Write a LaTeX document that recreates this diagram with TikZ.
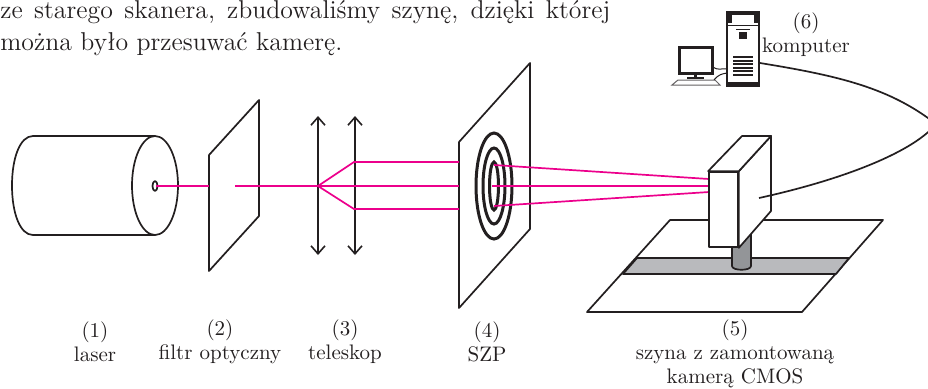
\documentclass[tikz,border=0pt]{standalone}
\usepackage{fontspec}
\usepackage{xcolor}
\usetikzlibrary{arrows.meta,positioning}
\definecolor{beamcolor}{HTML}{EC008C}
\definecolor{railgray}{HTML}{B9BABD}
\definecolor{postgray}{HTML}{939598}
\definecolor{linecolor}{HTML}{231F20}

\begin{document}
\begin{tikzpicture}[
    x=0.5pt, y=-0.5pt,
    outline/.style={draw=linecolor, line width=0.85pt, line join=round},
    beam/.style={draw=beamcolor, line width=0.85pt},
    lens/.style={draw=linecolor, line width=0.8pt, <->, >={Straight Barb[length=4pt,width=7pt]}},
    ring/.style={draw=linecolor, line width=1.5pt},
    opis/.style={align=center, text=linecolor, inner sep=0pt, font=\fontsize{10.5}{12}\selectfont},
    solid box/.style={fill=linecolor, inner sep=0pt, draw=none},
    pcbox/.style={draw=linecolor, fill=white, line width=0.6pt, inner sep=0pt, minimum width=16pt, minimum height=37pt}
]
\useasboundingbox (0,0) rectangle (928,388);

\node[opis, anchor=north west, align=left, font=\fontsize{12.9}{16}\selectfont] (tekst) at (0,0) {\hbox to 305pt{ze starego skanera, zbudowaliśmy szynę, dzięki której}\\można było przesuwać kamerę.};

\draw[outline] (33,136) .. controls (20,136) and (12,158) .. (12,185.5) .. controls (12,213) and (20,235) .. (33,235) -- (155,235);
\draw[outline] (33,136) -- (155,136);
\draw[outline] (155,185.5) ellipse [x radius=23, y radius=49.5];
\draw[outline] (155,186) ellipse [x radius=2.5, y radius=5];
\draw[outline] (209,155) -- (259,100) -- (259,216) -- (209,271) -- cycle;
\draw[lens] (318,116) -- (318,255);
\draw[lens] (355,116) -- (355,255);
\draw[outline] (459,142) -- (530,63) -- (530,229) -- (459,308) -- cycle;
\draw[ring] (494,186) ellipse [x radius=18, y radius=53];
\draw[ring] (494,186) ellipse [x radius=11, y radius=38];
\draw[ring] (494,186) ellipse [x radius=4.5, y radius=24];

\coordinate (waist) at (318,186);
\draw[beam] (156,186) -- (209,186);
\draw[beam] (235,186) -- (459,186);
\draw[beam] (waist) -- (354,162) -- (459,162);
\draw[beam] (waist) -- (354,209) -- (459,209);
\draw[beam] (494,165) -- (709,179);
\draw[beam] (492,186) -- (709,186);
\draw[beam] (494,206) -- (709,192);

\draw[outline] (670,220) -- (883,220) -- (802,312) -- (587,312) -- cycle;
\draw[outline, fill=railgray] (637,258) -- (849,258) -- (836,274) -- (623,274) -- cycle;
\draw[outline, fill=postgray] (732,230) -- (732,266) .. controls (732,271) and (751,271) .. (751,266) -- (751,230);

\node[outline, fill=white, inner sep=0pt, minimum width=14.5pt, minimum height=37.5pt] (front) at (723.5,209.5) {};
\draw[outline, fill=white] (front.north east) -- (771,136) -- (771,211) -- (front.south east) -- cycle;
\draw[outline, fill=white] (front.north west) -- (742,136) -- (771,136) -- (front.north east) -- cycle;

\node[pcbox] (tower) at (743,49) {};
\node[solid box, minimum width=16pt, minimum height=2pt] (tophead) at (743,13) {};
\node[solid box, minimum width=16pt, minimum height=2pt] (bottom) at (743,84) {};
\node[solid box, minimum width=2.5pt, minimum height=5pt] (cornerl) at (729.5,17) {};
\node[solid box, minimum width=2.5pt, minimum height=5pt] (cornerr) at (756.5,17) {};
\node[solid box, minimum width=2pt, minimum height=1.5pt] (clipl) at (730,21.5) {};
\node[solid box, minimum width=2pt, minimum height=1.5pt] (clipr) at (756,21.5) {};
\draw[draw=linecolor, line width=0.4pt] (tower.west |- 0,25) -- (tower.east |- 0,25);
\draw[draw=linecolor, line width=0.5pt] (736,29) -- (750,29);
\node[solid box, minimum width=4pt, minimum height=3.6pt] (button) at (743,35.5) {};
\foreach \y in {57,60.6,64.2,67.8,71.4,75}
    \draw[draw=linecolor, line width=1pt] (733,\y) -- (753,\y);

\node[draw=linecolor, fill=white, line width=1.5pt, inner sep=0pt, minimum width=16.5pt, minimum height=13pt] (monitor) at (695.5,60) {};
\draw[draw=linecolor, line width=1.2pt] (monitor.south) -- (695.5,77);
\draw[draw=linecolor, line width=1pt] (687,78) -- (704,78);
\draw[draw=linecolor!70, line width=0.5pt, fill=white] (678,80) -- (715,80) -- (720,85) -- (672,85) -- cycle;
\draw[draw=linecolor, line width=0.5pt] (713,67) .. controls (719,71) and (721,68) .. (727,69);
\draw[draw=linecolor, line width=0.5pt] (714,80) .. controls (719,74) and (722,74) .. (727,73);

\coordinate (pcport) at (760,63);
\coordinate (bulge) at (936,124);
\coordinate (camport) at (759,198);
\draw[outline] (pcport) .. controls (840,76) and (890,88) .. (bulge) .. controls (915,150) and (850,178) .. (camport);

\node[opis] (laser) at (95,342) {(1)\\laser};
\node[opis] (filtr) at (220,342) {(2)\\filtr optyczny};
\node[opis] (teleskop) at (345,342) {(3)\\teleskop};
\node[opis] (szp) at (487,342) {(4)\\SZP};
\node[opis] (szyna) at (735,354) {(5)\\szyna z zamontowaną\\kamerą CMOS};
\node[opis] (komputer) at (806,35) {(6)\\komputer};
\end{tikzpicture}
\end{document}
